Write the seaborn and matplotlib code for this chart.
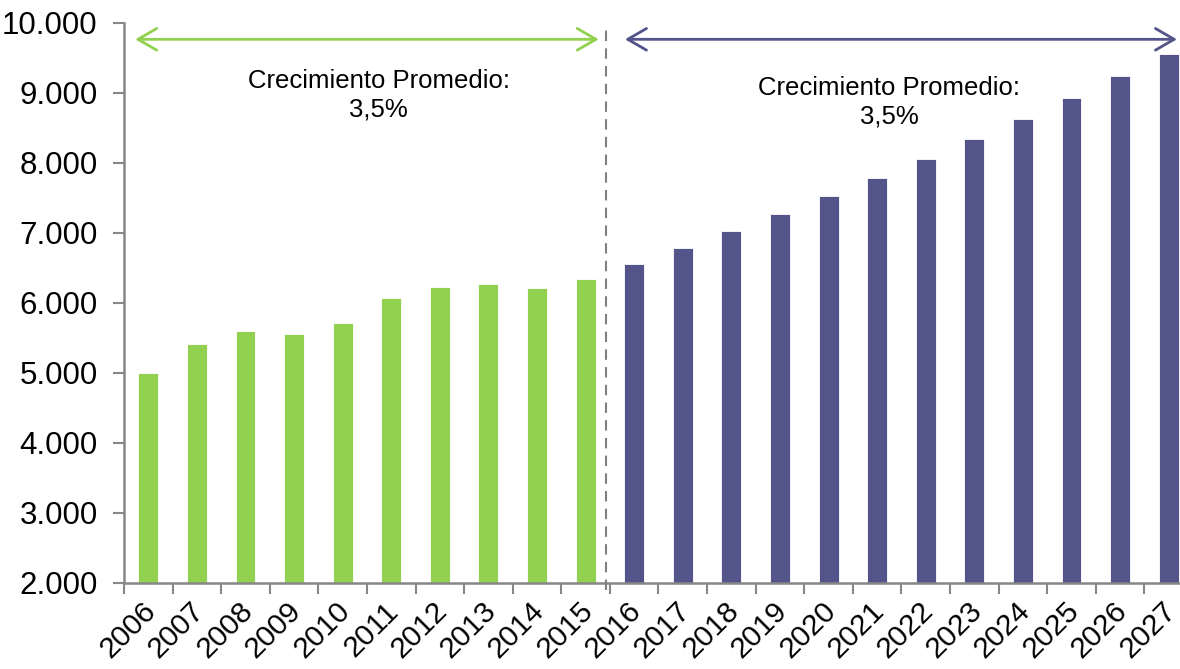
import matplotlib
matplotlib.use("Agg")
import matplotlib.pyplot as plt
import matplotlib.transforms as mtransforms
import seaborn as sns
import pandas as pd
import numpy as np

# data
years = [str(y) for y in range(2006, 2028)]
historic = [5000, 5415, 5600, 5563, 5714, 6070, 6231, 6274, 6221, 6340]
projected = [6557, 6786, 7029, 7271, 7529, 7786, 8057, 8343, 8629, 8929, 9243, 9557]
periods = ["Histórico"] * len(historic) + ["Proyección"] * len(projected)
growth_label = "Crecimiento Promedio:\n3,5%"

GREEN = "#92D050"
PURPLE = "#535489"
AXIS_GRAY = "#878787"

df = pd.DataFrame({"year": years, "value": historic + projected, "period": periods})

sns.set_style("white")
plt.rcParams["font.family"] = ["Liberation Sans", "DejaVu Sans"]
plt.rcParams["text.color"] = "black"

fig = plt.figure(figsize=(11.8, 6.69), dpi=100)
ax = fig.add_axes([124 / 1180, 86 / 669, 1069 / 1180, 560 / 669])

sns.barplot(data=df, x="year", y="value", hue="period",
            palette={"Histórico": GREEN, "Proyección": PURPLE},
            dodge=False, legend=False, width=0.41, saturation=1,
            edgecolor="white", linewidth=0.6, ax=ax)

ax.set_xlim(-0.5, len(years) - 0.5)
ax.set_ylim(2000, 10000)
ax.set_xlabel("")
ax.set_ylabel("")

# y axis
yticks = np.arange(2000, 10001, 1000)
ax.set_yticks(yticks)
ax.set_yticklabels([f"{v:,.0f}".replace(",", ".") for v in yticks], fontsize=22.5)
ax.tick_params(axis="y", length=8, width=1.5, color=AXIS_GRAY, pad=11,
               left=True, labelcolor="black")

# x axis: labels at centers, tick marks at category boundaries
ax.set_xticks(range(len(years)))
ax.set_xticklabels(years, fontsize=21.5, rotation=45, ha="right", va="center",
                   rotation_mode="anchor")
ax.tick_params(axis="x", which="major", length=0, pad=17, labelcolor="black")
ax.set_xticks(np.arange(-0.5, len(years), 1), minor=True)
ax.tick_params(axis="x", which="minor", length=8, width=1.5, color=AXIS_GRAY, bottom=True)
shift = mtransforms.ScaledTranslation(3 / 100, 0, fig.dpi_scale_trans)
for lbl in ax.get_xticklabels():
    lbl.set_transform(lbl.get_transform() + shift)

for side in ["top", "right"]:
    ax.spines[side].set_visible(False)
for side in ["left", "bottom"]:
    ax.spines[side].set_color(AXIS_GRAY)
    ax.spines[side].set_linewidth(1.8)

# separator between history and projection
split = len(historic) - 0.58
ax.plot([split, split], [1900, 9900], color="#808080", lw=1.5,
        ls=(0, (5, 3.5)), clip_on=False, zorder=3)

# range arrows
arrow_y = 9767
style = "<->,head_length=1.35,head_width=0.78"
ax.annotate("", xy=(-0.27, arrow_y), xytext=(split - 0.15, arrow_y),
            arrowprops=dict(arrowstyle=style, color=GREEN, lw=2,
                            shrinkA=0, shrinkB=0), annotation_clip=False)
ax.annotate("", xy=(split + 0.39, arrow_y), xytext=(len(years) - 0.83, arrow_y),
            arrowprops=dict(arrowstyle=style, color=PURPLE, lw=2,
                            shrinkA=0, shrinkB=0), annotation_clip=False)

ax.text(4.74, 9340, growth_label, ha="center", va="top", fontsize=18.5,
        linespacing=1.25, color="black")
ax.text(15.25, 9240, growth_label, ha="center", va="top", fontsize=18.5,
        linespacing=1.25, color="black")

fig.savefig("out.png", dpi=100)
